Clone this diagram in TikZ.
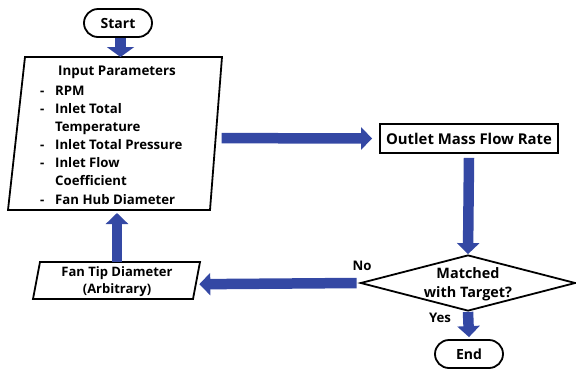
\documentclass[tikz,border=0pt]{standalone}
\usepackage{fontspec}
\setmainfont{Open Sans}
\usetikzlibrary{arrows.meta,shapes.geometric,calc}
\definecolor{flowblue}{HTML}{3448A4}
\begin{document}
\begin{tikzpicture}[x=1pt,y=-1pt,
  outline/.style={draw=black, line width=1.8pt},
  pill/.style={outline, rounded corners=14pt, minimum width=68pt, minimum height=28pt, inner sep=0pt, font=\bfseries\fontsize{14}{16}\selectfont},
  lbl/.style={font=\bfseries\fontsize{13.2}{15}\selectfont, inner sep=0pt},
  ttl/.style={font=\bfseries\fontsize{13.4}{16}\selectfont, inner sep=0pt},
  item/.style={lbl, anchor=base west},
  flow/.style={draw=flowblue, line width=10.5pt, -{Triangle[width=22pt,length=11pt]}},
  bigflow/.style={flow, -{Triangle[width=27pt,length=10pt]}},
]
\useasboundingbox (0,0) rectangle (576,368);

% Start
\node[pill] (start) at (118,23) {Start};

% Input parameters parallelogram
\coordinate (inTL) at (25,57);
\coordinate (inTR) at (222,57);
\coordinate (inBR) at (210,210);
\coordinate (inBL) at (8,210);
\draw[outline] (inTL) -- (inTR) -- (inBR) -- (inBL) -- cycle;
\node[ttl] (intitle) at (117,72) {Input Parameters};
\foreach \n/\y/\d/\t in {1/95.2/-/RPM, 2/113.3/-/Inlet Total, 3/131.4//Temperature, 4/149.6/-/Inlet Total Pressure, 5/167.7/-/Inlet Flow, 6/185.8//Coefficient, 7/204/-/Fan Hub Diameter}{
  \node[item] (item\n) at (40,\y) {\makebox[15pt][l]{\d}\t};
}

% Outlet mass flow rate
\node[outline, minimum width=178pt, minimum height=29pt, inner sep=0pt, font=\bfseries\fontsize{14.9}{17}\selectfont] (outlet) at (469,138.5) {Outlet Mass Flow Rate};

% Decision diamond
\node[diamond, outline, minimum width=215pt, minimum height=56pt, inner sep=0pt] (dec) at (468,283) {};
\node[align=center, inner sep=0pt, font=\bfseries\fontsize{14.4}{19}\selectfont] (dectext) at (468,284) {Matched\\with Target?};
\node[lbl] (no) at (362,266) {No};
\node[lbl] (yes) at (440,318) {Yes};

% Fan tip parallelogram
\coordinate (ftTL) at (40,262);
\coordinate (ftTR) at (200,262);
\coordinate (ftBR) at (193,299);
\coordinate (ftBL) at (33,299);
\draw[outline] (ftTL) -- (ftTR) -- (ftBR) -- (ftBL) -- cycle;
\node[lbl, align=center, font=\bfseries\fontsize{13}{16.5}\selectfont] (fantip) at (117,281.5) {Fan Tip Diameter\\(Arbitrary)};

% End
\node[pill] (end) at (469,354) {End};

% Arrows
\draw[bigflow] ([xshift=2.5pt]start.south) -- ([xshift=2.5pt]start.south |- inTL);
\draw[flow] ($(inTR)!0.53!(inBR)+(6,0)$) coordinate (a2s) -- ([xshift=-7pt]outlet.west);
\draw[flow] ([yshift=-4pt]outlet.south) -- (dec.north);
\draw[flow] ([xshift=-3pt]dec.west) -- ($(ftTR)!0.6!(ftBR)+(3.5,0)$) coordinate (a4e);
\draw[flow] (fantip.north |- ftTL) -- ([yshift=-3pt]fantip.north |- inBL);
\draw[flow] (dec.south) -- ([yshift=2pt]end.north);
\end{tikzpicture}
\end{document}
